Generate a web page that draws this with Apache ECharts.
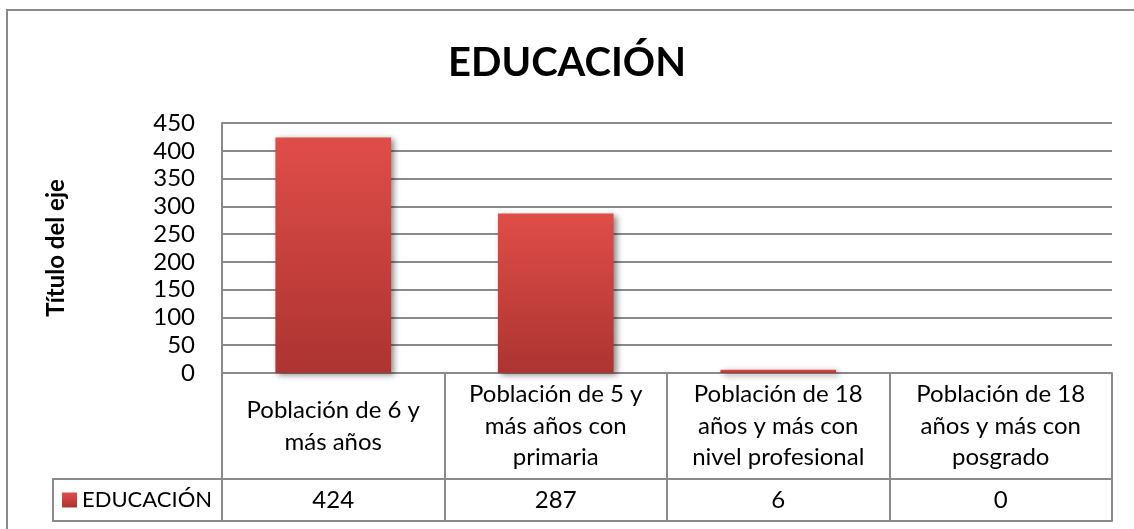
<!DOCTYPE html>
<html>
<head>
<meta charset="utf-8">
<script src="https://cdn.jsdelivr.net/npm/echarts@6/dist/echarts.min.js"></script>
<style>
  html, body { margin: 0; padding: 0; background: #fff; }
  #chart { width: 1134px; height: 529px; }
</style>
</head>
<body>
<div id="chart"></div>
<script>
// datos del grafico
const seriesName = 'EDUCACIÓN'
const categories = [
  'Población de 6 y\nmás años',
  'Población de 5 y\nmás años con\nprimaria',
  'Población de 18\naños y más con\nnivel profesional',
  'Población de 18\naños y más con\nposgrado',
]
const values = [424, 287, 6, 0]
const yTicks = { min: 0, max: 450, interval: 50 }

const FONT = 'Lato'
const GRAY = '#8a8a8a'

const chart = echarts.init(document.getElementById('chart'))

const option = {
  animation: false,
  backgroundColor: '#fff',
  textStyle: { fontFamily: FONT, color: '#000' },
  title: {
    text: 'EDUCACIÓN',
    left: 'center',
    top: 38,
    textStyle: { fontFamily: FONT, fontSize: 40, fontWeight: 'bold', color: '#000' },
  },
  legend: {
    data: [seriesName],
    left: 62,
    top: 489,
    padding: 0,
    icon: 'rect',
    itemWidth: 15,
    itemHeight: 15,
    itemGap: 6,
    textStyle: { fontFamily: FONT, fontSize: 22, color: '#000' },
  },
  grid: {
    left: 222,
    right: 22,
    top: 123,
    bottom: 156,
  },
  xAxis: [
    {
      // fila de encabezados de la tabla
      type: 'category',
      data: categories,
      position: 'bottom',
      axisLine: { lineStyle: { color: GRAY, width: 2 } },
      axisTick: { show: true, interval: 0, length: 148, lineStyle: { color: GRAY, width: 2 } },
      axisLabel: {
        interval: 0,
        margin: 53,
        verticalAlign: 'middle',
        fontFamily: FONT,
        fontSize: 24,
        lineHeight: 31.7,
        color: '#000',
      },
    },
    {
      // fila de valores
      type: 'category',
      data: values.map(String),
      position: 'bottom',
      offset: 106,
      axisLine: { show: true, lineStyle: { color: GRAY, width: 2 } },
      axisTick: { show: false },
      axisLabel: {
        interval: 0,
        margin: 21,
        verticalAlign: 'middle',
        fontFamily: FONT,
        fontSize: 24,
        color: '#000',
      },
    },
    {
      // borde inferior de la tabla
      type: 'category',
      data: categories,
      position: 'bottom',
      offset: 148,
      axisLine: { show: true, lineStyle: { color: GRAY, width: 2 } },
      axisTick: { show: false },
      axisLabel: { show: false },
    },
  ],
  yAxis: {
    type: 'value',
    min: yTicks.min,
    max: yTicks.max,
    interval: yTicks.interval,
    name: 'Título del eje',
    nameLocation: 'middle',
    nameRotate: 90,
    nameGap: 154,
    nameTextStyle: { fontFamily: FONT, fontSize: 24, fontWeight: 'bold', color: '#000' },
    axisLine: { show: true, lineStyle: { color: GRAY, width: 2 } },
    axisTick: { show: false },
    axisLabel: { margin: 27, fontFamily: FONT, fontSize: 24, color: '#000' },
    splitLine: { show: true, lineStyle: { color: GRAY, width: 2 } },
  },
  graphic: [
    {
      type: 'rect',
      shape: { x: 7, y: 10, width: 1150, height: 560 },
      style: { fill: 'none', stroke: GRAY, lineWidth: 2 },
      silent: true,
    },
    {
      type: 'rect',
      shape: { x: 53, y: 479, width: 169, height: 42 },
      style: { fill: 'none', stroke: GRAY, lineWidth: 2 },
      silent: true,
    },
  ],
  series: [
    {
      name: seriesName,
      type: 'bar',
      data: values,
      barWidth: '52%',
      itemStyle: {
        color: new echarts.graphic.LinearGradient(0, 0, 0, 1, [
          { offset: 0, color: '#E04D49' },
          { offset: 1, color: '#AC3431' },
        ]),
        borderWidth: 0,
        shadowColor: 'rgba(0,0,0,0.45)',
        shadowBlur: 6,
        shadowOffsetX: 3,
        shadowOffsetY: 2,
      },
    },
  ],
}

chart.setOption(option)
</script>
</body>
</html>
